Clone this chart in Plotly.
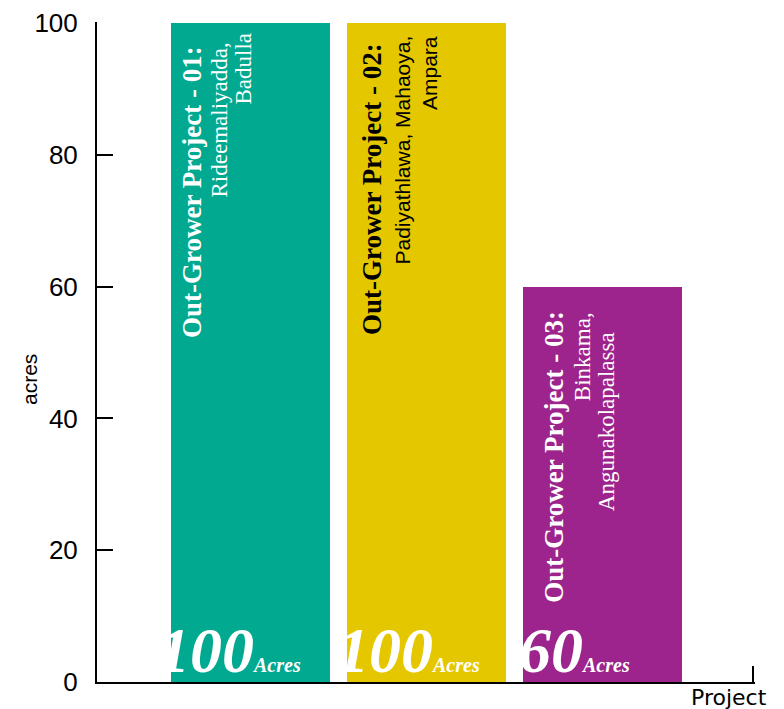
import plotly.graph_objects as go

# ---- data ----
projects = ["Out-Grower Project - 01:", "Out-Grower Project - 02:", "Out-Grower Project - 03:"]
locations = [["Rideemaliyadda,", "Badulla"],
             ["Padiyathlawa, Mahaoya,", "Ampara"],
             ["Binkama,", "Angunakolapalassa"]]
acres = [100, 100, 60]
y_ticks = [0, 20, 40, 60, 80, 100]

# ---- styles ----
bar_colors = ["#00A98F", "#E5C700", "#9C248C"]
head_colors = ["white", "black", "white"]
loc_fonts = [dict(family="Liberation Serif", size=23, color="white"),
             dict(family="Liberation Sans", size=21, color="black"),
             dict(family="Liberation Serif", size=23, color="white")]
# pixel offsets (x from bar centre, y below bar top) for heading / line1 / line2
col_dx = [[-58.5, -31.5, -7], [-54.5, -24.5, 3.5], [-48.5, -20.5, 3.5]]
col_dy = [[21, 18, 8], [18, 11, 11], [22, 24, 44]]
val_dx = [52.5, 55.5, 29.5]

xs = list(range(len(acres)))

fig = go.Figure()
fig.add_trace(go.Bar(x=xs, y=acres, width=0.903, marker=dict(color=bar_colors, line=dict(width=0)),
                     hoverinfo="skip"))

ann = []
for i, (p, locs, v) in enumerate(zip(projects, locations, acres)):
    # heading
    ann.append(dict(x=xs[i], y=v, xref="x", yref="y", text="<b>" + p + "</b>", textangle=-90,
                    xanchor="center", yanchor="top", xshift=col_dx[i][0], yshift=-col_dy[i][0],
                    showarrow=False, font=dict(family="Liberation Serif", size=27, color=head_colors[i])))
    for j, line in enumerate(locs):
        ann.append(dict(x=xs[i], y=v, xref="x", yref="y", text=line, textangle=-90,
                        xanchor="center", yanchor="top", xshift=col_dx[i][j + 1], yshift=-col_dy[i][j + 1],
                        showarrow=False, font=loc_fonts[i]))
    # value label
    ann.append(dict(x=xs[i], y=0, xref="x", yref="y",
                    text="<b><i>%d<span style='font-size:20px'>Acres</span></i></b>" % v,
                    xanchor="right", yanchor="bottom", xshift=val_dx[i], yshift=-6,
                    showarrow=False, font=dict(family="Liberation Serif", size=64, color="white")))

ann.append(dict(x=0, y=0.4576, xref="paper", yref="paper", text="acres", textangle=-90,
                xanchor="center", yanchor="middle", xshift=-67, showarrow=False,
                font=dict(family="Liberation Sans", size=21, color="black")))
ann.append(dict(x=1, y=0, xref="paper", yref="paper", text="Project",
                xanchor="right", yanchor="top", xshift=14, yshift=-1, showarrow=False,
                font=dict(family="DejaVu Sans", size=22, color="black")))

x_lo, x_hi = -0.872, 2.866
fig.update_layout(
    width=776, height=701, margin=dict(l=89, r=29, t=14, b=27, autoexpand=False),
    paper_bgcolor="white", plot_bgcolor="white", showlegend=False, bargap=0,
    annotations=ann,
    xaxis=dict(range=[x_lo, x_hi], showgrid=False, zeroline=False, showline=True, linecolor="black",
               linewidth=2, ticks="inside", ticklen=16, tickwidth=2, tickcolor="black",
               tickmode="array", tickvals=[x_hi - 0.012], ticktext=[" "], fixedrange=True,
               automargin=False),
    yaxis=dict(range=[0, 100.15], showgrid=False, zeroline=False, showline=True, linecolor="black",
               linewidth=2, ticks="inside", ticklen=16, tickwidth=2, tickcolor="black",
               tickvals=y_ticks, ticklabelstandoff=12, automargin=False, ticklabeloverflow="allow",
               tickfont=dict(family="Liberation Sans", size=26, color="black"),
               fixedrange=True),
)

fig.write_html("out.html")
